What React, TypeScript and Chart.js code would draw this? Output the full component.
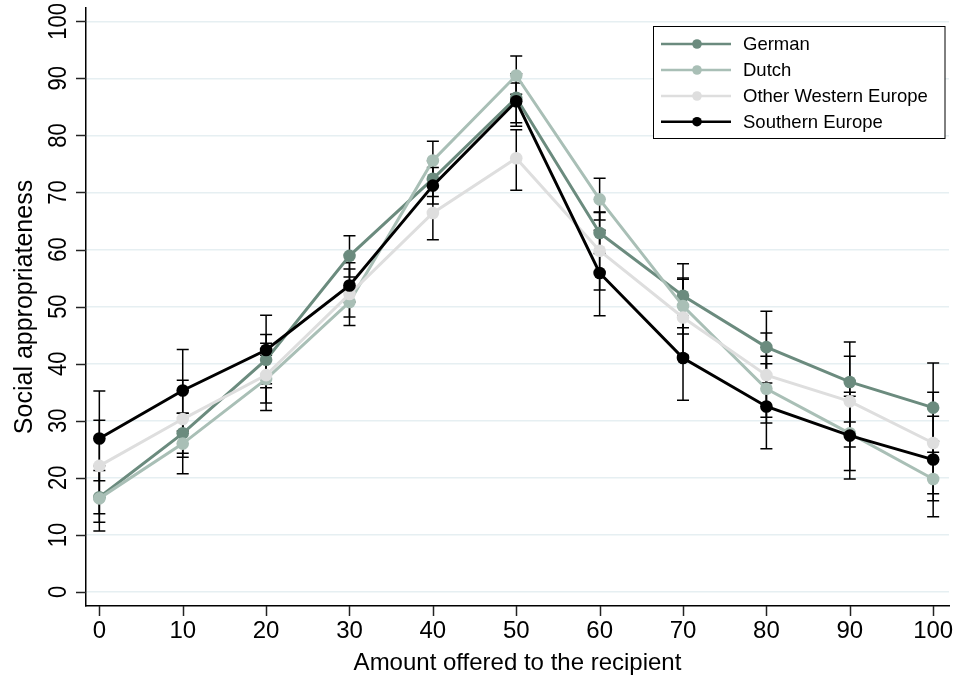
import React, { useEffect, useRef } from "react";
import { Chart, registerables } from "chart.js";

Chart.register(...registerables);

const offers = [0, 10, 20, 30, 40, 50, 60, 70, 80, 90, 100];
const xTickValues = [0, 10, 20, 30, 40, 50, 60, 70, 80, 90, 100];
const yTickValues = [0, 10, 20, 30, 40, 50, 60, 70, 80, 90, 100];

const seriesLabels = ["German", "Dutch", "Other Western Europe", "Southern Europe"];

const germanMean = [16.6, 27.8, 40.7, 58.9, 72.4, 86.6, 62.9, 51.9, 42.9, 36.8, 32.3];
const germanLow = [12.2, 24.3, 35.8, 55.2, 69.3, 82.2, 59.3, 46.3, 36.6, 29.8, 24.5];
const germanHigh = [21.3, 31.3, 45.1, 62.4, 75.5, 90.8, 66.5, 57.5, 49.2, 43.8, 40.1];

const dutchMean = [16.4, 26.0, 37.3, 50.8, 75.6, 90.5, 68.8, 50.1, 35.6, 27.8, 19.8];
const dutchLow = [10.7, 20.7, 33.1, 48.2, 72.2, 87.2, 65.2, 45.2, 29.6, 21.3, 13.2];
const dutchHigh = [22.1, 31.3, 41.5, 53.4, 79.0, 93.9, 72.5, 55.0, 41.3, 34.3, 26.4];

const otherMean = [22.1, 30.3, 38.0, 52.2, 66.4, 76.0, 59.8, 48.1, 38.0, 33.4, 26.1];
const otherLow = [13.7, 23.6, 31.8, 46.7, 61.7, 70.4, 52.9, 41.5, 30.6, 25.4, 17.2];
const otherHigh = [30.1, 37.1, 43.6, 57.7, 71.1, 81.0, 66.6, 54.8, 45.4, 41.3, 35.0];

const southMean = [26.9, 35.3, 42.4, 53.7, 71.2, 86.0, 55.9, 41.0, 32.5, 27.4, 23.2];
const southLow = [19.5, 28.2, 36.5, 50.8, 68.0, 81.6, 48.4, 33.6, 25.1, 19.8, 16.0];
const southHigh = [35.2, 42.5, 48.5, 56.6, 74.4, 89.2, 63.4, 48.4, 40.0, 35.0, 30.8];

const xTitle = "Amount offered to the recipient";
const yTitle = "Social appropriateness";

const colors = ["#6b8b7e", "#a9bfb6", "#dedede", "#000000"];
const lows = [germanLow, dutchLow, otherLow, southLow];
const highs = [germanHigh, dutchHigh, otherHigh, southHigh];
const means = [germanMean, dutchMean, otherMean, southMean];

const FONT = "'Liberation Sans', Arial, sans-serif";

const decorPlugin = {
  id: "decor",
  beforeDatasetsDraw(chart: any) {
    const ctx = chart.ctx;
    const xs = chart.scales.x;
    const ys = chart.scales.y;
    ctx.save();
    ctx.strokeStyle = "#000000";
    ctx.lineWidth = 1.5;
    for (let s = 0; s < 4; s++) {
      for (let i = 0; i < offers.length; i++) {
        const px = xs.getPixelForValue(offers[i]);
        const pl = ys.getPixelForValue(lows[s][i]);
        const ph = ys.getPixelForValue(highs[s][i]);
        ctx.beginPath();
        ctx.moveTo(px, pl);
        ctx.lineTo(px, ph);
        ctx.moveTo(px - 6, pl);
        ctx.lineTo(px + 6, pl);
        ctx.moveTo(px - 6, ph);
        ctx.lineTo(px + 6, ph);
        ctx.stroke();
      }
    }
    ctx.restore();
  },
  afterDraw(chart: any) {
    const ctx = chart.ctx;
    const xs = chart.scales.x;
    const ys = chart.scales.y;
    const area = chart.chartArea;
    ctx.save();
    // tick marks
    ctx.strokeStyle = "#222222";
    ctx.lineWidth = 1.5;
    for (const v of xTickValues) {
      const px = Math.round(xs.getPixelForValue(v)) + 0.5;
      ctx.beginPath();
      ctx.moveTo(px, area.bottom);
      ctx.lineTo(px, area.bottom + 10);
      ctx.stroke();
    }
    for (const v of yTickValues) {
      const py = Math.round(ys.getPixelForValue(v)) + 0.5;
      ctx.beginPath();
      ctx.moveTo(area.left, py);
      ctx.lineTo(area.left - 10, py);
      ctx.stroke();
    }
    // x tick labels
    ctx.fillStyle = "#000000";
    ctx.font = `24px ${FONT}`;
    ctx.textAlign = "center";
    ctx.textBaseline = "alphabetic";
    for (const v of xTickValues) {
      ctx.fillText(String(v), xs.getPixelForValue(v), 638);
    }
    // x title
    ctx.font = `24px ${FONT}`;
    ctx.fillText(xTitle, (area.left + area.right) / 2, 670);
    // y tick labels (rotated)
    ctx.font = `22px ${FONT}`;
    for (const v of yTickValues) {
      ctx.save();
      ctx.translate(66, ys.getPixelForValue(v));
      ctx.rotate(-Math.PI / 2);
      ctx.scale(1, 1.13);
      ctx.textAlign = "center";
      ctx.textBaseline = "alphabetic";
      ctx.fillText(String(v), 0, 0);
      ctx.restore();
    }
    // y title
    ctx.save();
    ctx.font = `25px ${FONT}`;
    ctx.translate(32, (area.top + area.bottom) / 2);
    ctx.rotate(-Math.PI / 2);
    ctx.textAlign = "center";
    ctx.textBaseline = "alphabetic";
    ctx.fillText(yTitle, 0, 0);
    ctx.restore();
    // legend
    const bx = 653.5, by = 26.5, bw = 291.5, bh = 112;
    ctx.fillStyle = "#ffffff";
    ctx.fillRect(bx, by, bw, bh);
    ctx.strokeStyle = "#000000";
    ctx.lineWidth = 1;
    ctx.strokeRect(bx, by, bw, bh);
    const rows = [44, 70, 96, 121.7];
    ctx.font = `18.5px ${FONT}`;
    ctx.textAlign = "left";
    ctx.textBaseline = "middle";
    chart.data.datasets.forEach((ds: any, i: number) => {
      const y = rows[i];
      ctx.strokeStyle = ds.borderColor;
      ctx.lineWidth = 2.5;
      ctx.beginPath();
      ctx.moveTo(661, y);
      ctx.lineTo(731, y);
      ctx.stroke();
      ctx.fillStyle = ds.backgroundColor;
      ctx.beginPath();
      ctx.arc(697, y, 4.8, 0, Math.PI * 2);
      ctx.fill();
      ctx.fillStyle = "#000000";
      ctx.fillText(ds.label, 743, y + 1);
    });
    ctx.restore();
  },
};

export default function App() {
  const ref = useRef<HTMLCanvasElement | null>(null);
  useEffect(() => {
    document.body.style.margin = "0";
    const canvas = ref.current;
    if (!canvas) return;
    const datasets = means.map((m, s) => ({
      label: seriesLabels[s],
      data: offers.map((x, i) => ({ x, y: m[i] })),
      borderColor: colors[s],
      backgroundColor: colors[s],
      pointBackgroundColor: colors[s],
      pointBorderColor: colors[s],
      pointBorderWidth: 0,
      pointRadius: 6.3,
      borderWidth: 3,
      tension: 0,
      order: 4 - s,
    }));
    const chart = new Chart(canvas, {
      type: "line",
      data: { datasets },
      options: {
        animation: false,
        responsive: false,
        devicePixelRatio: 1,
        layout: { padding: { left: 86, top: 8, right: 9, bottom: 73 } },
        plugins: { legend: { display: false }, tooltip: { enabled: false } },
        scales: {
          x: {
            type: "linear",
            min: -1.6,
            max: 101.9,
            grid: { display: false, drawTicks: false },
            border: { display: true, color: "#000000", width: 1.5 },
            ticks: { display: false },
            afterBuildTicks: (s: any) => {
              s.ticks = xTickValues.map((v) => ({ value: v }));
            },
          },
          y: {
            type: "linear",
            min: -2.46,
            max: 102.33,
            grid: { display: true, drawTicks: false, color: "#e6eff2", lineWidth: 1.5 },
            border: { display: true, color: "#000000", width: 1.5 },
            ticks: { display: false },
            afterBuildTicks: (s: any) => {
              s.ticks = yTickValues.map((v) => ({ value: v }));
            },
          },
        },
      },
      plugins: [decorPlugin],
    } as any);
    return () => chart.destroy();
  }, []);
  return (
    <div style={{ position: "fixed", left: 0, top: 0, width: 958, height: 679, background: "#fff" }}>
      <canvas ref={ref} width={958} height={679} style={{ width: 958, height: 679 }} />
    </div>
  );
}
